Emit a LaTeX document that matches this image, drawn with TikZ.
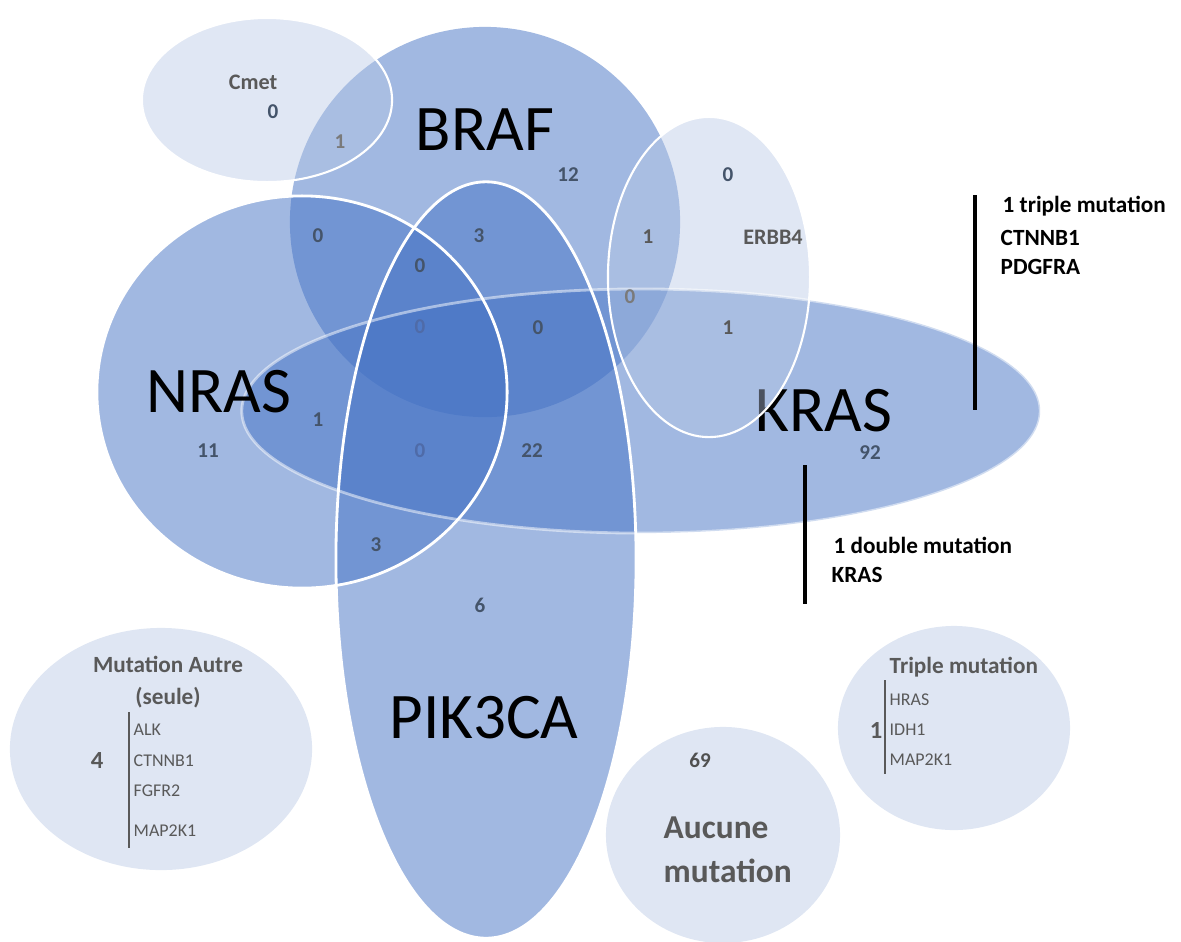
\documentclass[tikz,border=0pt]{standalone}
\usepackage{fontspec}
\setmainfont{Carlito}
\definecolor{vennblue}{HTML}{4472C4}
\definecolor{vennlight}{HTML}{B4C5E4}
\definecolor{vennpale}{HTML}{DFE6F3}
\definecolor{numblue}{HTML}{44546A}
\definecolor{numfaint}{HTML}{4F6BA8}
\definecolor{labgray}{HTML}{595959}

\begin{document}
\begin{tikzpicture}[x=0.01cm,y=-0.01cm,
            set/.style = {fill=vennblue,fill opacity=0.5},
            minor/.style = {fill=vennlight,fill opacity=0.42},
            pale/.style = {fill=vennpale},
            rim/.style = {draw=white,line width=0.8pt},
            big/.style = {font=\fontsize{18.5}{22}\selectfont,inner sep=0pt},
            num/.style = {font=\fontsize{6}{7}\selectfont\bfseries,text=numblue,inner sep=1pt},
            faint/.style = {num,text=numfaint},
            tag/.style = {font=\fontsize{6.3}{7.5}\selectfont\bfseries,text=labgray},
            gene/.style = {font=\fontsize{5.1}{6}\selectfont,text=labgray,anchor=west,inner sep=0pt},
            note/.style = {font=\fontsize{6.6}{8}\selectfont\bfseries,anchor=west,inner sep=0pt},
            bar/.style = {draw,line width=1pt}]
            \useasboundingbox (0,0) rectangle (1181,941);
            \path[set] (485,222) ellipse [x radius=1.95cm,y radius=1.95cm];
            \path[set] (302,392) ellipse [x radius=2.05cm,y radius=1.96cm];
            \path[set] (486,560) ellipse [x radius=1.5cm,y radius=3.78cm];
            \path[set] (641,411) ellipse [x radius=3.99cm,y radius=1.22cm];
            \path[minor] (267,100) ellipse [x radius=1.25cm,y radius=0.82cm];
            \path[pale] (161,749) ellipse [x radius=1.51cm,y radius=1.21cm];
            \path[pale] (954,728) ellipse [x radius=1.16cm,y radius=1.02cm];
            \path[pale] (723,835) ellipse [x radius=1.17cm,y radius=1.08cm];
            \node[big](kras) at (824,411) {KRAS};
            \path[minor] (709,277) ellipse [x radius=1.01cm,y radius=1.6cm];
            \draw[rim,draw opacity=0.5] (641,411) ellipse [x radius=3.99cm,y radius=1.22cm];
            \draw[rim] (302,392) ellipse [x radius=2.05cm,y radius=1.96cm];
            \draw[rim] (486,560) ellipse [x radius=1.5cm,y radius=3.78cm];
            \draw[rim,line width=0.6pt] (267,100) ellipse [x radius=1.25cm,y radius=0.82cm];
            \draw[rim,line width=0.6pt] (709,277) ellipse [x radius=1.01cm,y radius=1.6cm];
            \node[big](braf) at (485,130) {BRAF};
            \node[big](nras) at (219,392) {NRAS};
            \node[big](pik) at (484,718) {PIK3CA};
            \node[tag](cmet) at (253,82) {Cmet};
            \node[tag](erbb) at (773,237) {ERBB4};
            \node[num](n-cmet) at (273,112) {0};
            \node[faint,text=labgray!80](n-cb) at (340,142) {1};
            \node[num](n-braf) at (568,175) {12};
            \node[num](n-erbb) at (728,175) {0};
            \node[faint,text=labgray](n-be) at (648,237) {1};
            \node[num](n-bn) at (318,236) {0};
            \node[num](n-bp) at (479,236) {3};
            \node[num](n-bnp) at (420,266) {0};
            \node[faint,text=labgray!80](n-bek) at (630,297) {0};
            \node[faint,text=labgray](n-ek) at (728,328) {1};
            \node[faint](n-all) at (420,327) {0};
            \node[num](n-bpk) at (538,328) {0};
            \node[num](n-nk) at (318,420) {1};
            \node[num](n-nras) at (208,451) {11};
            \node[faint](n-npk) at (420,451) {0};
            \node[num](n-pk) at (532,451) {22};
            \node[num](n-kras) at (870,453) {92};
            \node[num](n-np) at (376,545) {3};
            \node[num](n-pik) at (480,605) {6};
            \node[tag,align=center,font=\fontsize{6.6}{9}\selectfont\bfseries](autre) at (168,682) {Mutation Autre\\(seule)};
            \node[tag,font=\fontsize{7}{8}\selectfont\bfseries](n-autre) at (97,760) {4};
            \coordinate (a-top) at (129,712);
            \coordinate (a-bot) at (129,848);
            \draw[labgray,line width=0.6pt] (a-top) -- (a-bot);
            \node[gene](alk) at (133,730) {ALK};
            \node[gene](ctn) at (133,761) {CTNNB1};
            \node[gene](fgf) at (133,791) {FGFR2};
            \node[gene](map) at (133,831) {MAP2K1};
            \node[tag,anchor=west,inner sep=0pt,font=\fontsize{6.6}{8}\selectfont\bfseries](triple) at (889,667) {Triple mutation};
            \node[tag,font=\fontsize{7}{8}\selectfont\bfseries](n-triple) at (876,730) {1};
            \coordinate (t-top) at (885,680);
            \coordinate (t-bot) at (885,774);
            \draw[labgray,line width=0.6pt] (t-top) -- (t-bot);
            \node[gene](hras) at (889,700) {HRAS};
            \node[gene](idh) at (889,730) {IDH1};
            \node[gene](map2) at (889,760) {MAP2K1};
            \node[num,text=labgray!90!black](n-none) at (700,760) {69};
            \node[tag,anchor=west,align=left,inner sep=0pt,font=\fontsize{9.5}{12.5}\selectfont\bfseries](none) at (663,850) {Aucune\\mutation};
            \coordinate (s-top) at (975,195);
            \coordinate (s-bot) at (975,410);
            \draw[bar] (s-top) -- (s-bot);
            \node[note](trip) at (1002,206) {1 triple mutation};
            \node[note](trip-a) at (1000,238) {CTNNB1};
            \node[note](trip-b) at (1000,267) {PDGFRA};
            \coordinate (d-top) at (805,465);
            \coordinate (d-bot) at (805,604);
            \draw[bar] (d-top) -- (d-bot);
            \node[note](dbl) at (833,545) {1 double mutation};
            \node[note](dbl-a) at (831,575) {KRAS};
        \end{tikzpicture}
\end{document}
